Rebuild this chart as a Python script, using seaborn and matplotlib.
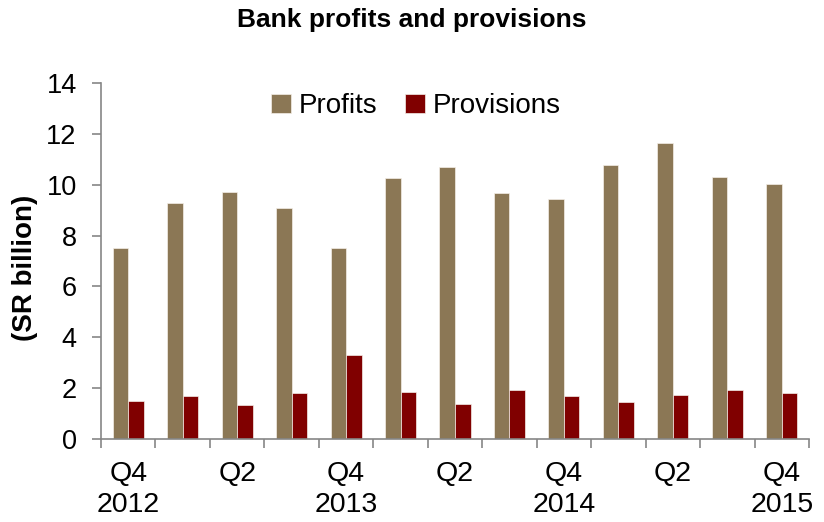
import matplotlib
matplotlib.use("Agg")
import matplotlib.pyplot as plt
import seaborn as sns
import pandas as pd

# Quarterly bank results, SR billion
quarters = ["Q4 2012", "Q1 2013", "Q2 2013", "Q3 2013", "Q4 2013",
            "Q1 2014", "Q2 2014", "Q3 2014", "Q4 2014",
            "Q1 2015", "Q2 2015", "Q3 2015", "Q4 2015"]
profits = [7.5, 9.3, 9.72, 9.1, 7.52, 10.28, 10.7, 9.69, 9.42, 10.77, 11.64, 10.31, 10.03]
provisions = [1.48, 1.68, 1.34, 1.81, 3.29, 1.83, 1.36, 1.93, 1.69, 1.45, 1.73, 1.91, 1.81]
tick_labels = ["Q4\n2012", "", "Q2", "", "Q4\n2013", "", "Q2", "",
               "Q4\n2014", "", "Q2", "", "Q4\n2015"]
series_names = ["Profits", "Provisions"]
series_colors = ["#8b7755", "#800000"]

df = pd.DataFrame({
    "quarter": quarters * 2,
    "value": profits + provisions,
    "series": [series_names[0]] * len(quarters) + [series_names[1]] * len(quarters),
})

sns.set_theme(style="white")
plt.rcParams["font.family"] = ["Liberation Sans", "DejaVu Sans"]
plt.rcParams["text.color"] = "black"
plt.rcParams["axes.labelcolor"] = "black"
plt.rcParams["xtick.color"] = "black"
plt.rcParams["ytick.color"] = "black"

fig = plt.figure(figsize=(8.24, 5.22), dpi=100)
ax = fig.add_axes([101 / 824, 1 - 439 / 522, 708 / 824, 356 / 522])

sns.barplot(data=df, x="quarter", y="value", hue="series", order=quarters,
            hue_order=series_names, palette=series_colors, width=0.57,
            edgecolor="#f4efe8", linewidth=0.5, saturation=1, ax=ax)

n = len(quarters)
ax.set_xlim(-0.5, n - 0.5)
ax.set_ylim(0, 14)
ax.set_yticks(range(0, 15, 2))
ax.tick_params(axis="y", labelsize=19.5, length=6.5, width=1.2,
               color="#868686", labelcolor="black", pad=11, direction="out", left=True)

# Ticks at category boundaries, labels at category centres
ax.set_xticks([i - 0.5 for i in range(n + 1)])
ax.set_xticklabels([])
ax.set_xticks(range(n), minor=True)
ax.set_xticklabels(tick_labels, minor=True, fontsize=20.5, linespacing=1.25)
ax.tick_params(axis="x", which="major", length=6.5, width=1.2,
               color="#868686", direction="out", bottom=True)
ax.tick_params(axis="x", which="minor", length=0, pad=16, labelcolor="black")

for side in ["top", "right"]:
    ax.spines[side].set_visible(False)
for side in ["left", "bottom"]:
    ax.spines[side].set_color("#868686")
    ax.spines[side].set_linewidth(1.2)

ax.set_xlabel("")
ax.set_ylabel("(SR billion)", fontsize=20, fontweight="bold", color="black")
ax.yaxis.set_label_coords(-0.089, 0.482)

handles, labels = ax.get_legend_handles_labels()
ax.legend(handles, labels, loc="center", bbox_to_anchor=(0.445, 0.935),
          ncol=2, frameon=False, fontsize=20, handlelength=0.7,
          handleheight=0.7, handletextpad=0.3, columnspacing=1.0,
          labelcolor="black")

fig.text(0.5, 1 - 27 / 522, "Bank profits and provisions", ha="center",
         va="baseline", fontsize=19, fontweight="bold", color="black")

fig.savefig("out.png", dpi=100)
